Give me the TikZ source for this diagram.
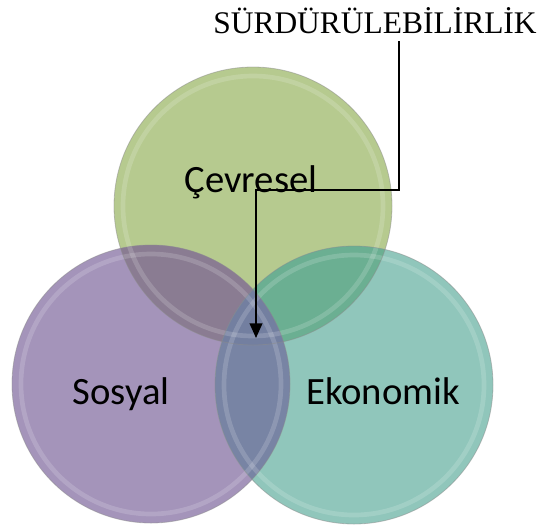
\documentclass[tikz,border=0pt]{standalone}
\usepackage{fontspec}
\setmainfont{Liberation Serif}
\newfontfamily\lblfont{Carlito}
\usetikzlibrary{arrows.meta}
\definecolor{cG}{HTML}{B6CA8F}
\definecolor{cP}{HTML}{A494BA}
\definecolor{cT}{HTML}{90C6BB}
\definecolor{cGP}{HTML}{8A7C92}
\definecolor{cGT}{HTML}{6BAF92}
\definecolor{cPT}{HTML}{7884A4}
\definecolor{cGPT}{HTML}{737FA0}
\tikzset{
  lbl/.style={font=\lblfont\fontsize{29pt}{34pt}\selectfont, anchor=base, inner sep=0pt},
  rim/.style={draw=black!45, draw opacity=0.5, line width=0.6pt},
  gloss/.style={draw=white, draw opacity=0.16, line width=3.5pt},
  conn/.style={line width=1.4pt, -{Triangle[length=11pt,width=9.5pt]}}
}
\begin{document}
\begin{tikzpicture}[x=0.75pt,y=-0.75pt]
\useasboundingbox (0,0) rectangle (539,526);
\def\R{139}
\coordinate (G) at (253,206);
\coordinate (P) at (151,384);
\coordinate (T) at (354,385);
% base fills
\fill[cG] (G) circle (\R);
\fill[cP] (P) circle (\R);
\fill[cT] (T) circle (\R);
% pairwise overlaps
\begin{scope}\clip (G) circle (\R); \fill[cGP] (P) circle (\R); \end{scope}
\begin{scope}\clip (G) circle (\R); \fill[cGT] (T) circle (\R); \end{scope}
\begin{scope}\clip (P) circle (\R); \fill[cPT] (T) circle (\R); \end{scope}
\begin{scope}\clip (G) circle (\R); \clip (P) circle (\R); \fill[cGPT] (T) circle (\R); \end{scope}
% gloss rings
\draw[gloss] (G) circle (\R-9);
\draw[gloss] (P) circle (\R-9);
\draw[gloss] (T) circle (\R-9);
% rims
\draw[rim] (G) circle (\R);
\draw[rim] (P) circle (\R);
\draw[rim] (T) circle (\R);
% labels
\node[lbl] (cev) at (251,192) {Çevresel};
\node[lbl] (sos) at (121,404) {Sosyal};
\node[lbl] (eko) at (383,404) {Ekonomik};
% title
\node[anchor=base, inner sep=0pt, font=\fontsize{23.6pt}{28pt}\selectfont] (t) at (375,33) {SÜRDÜRÜLEBİLİRLİK};
\coordinate (a) at (399,41);
\coordinate (bend) at (256,190);
\coordinate (tip) at (256,338);
\draw[conn] (a) |- (bend) -- (tip);
\end{tikzpicture}
\end{document}
